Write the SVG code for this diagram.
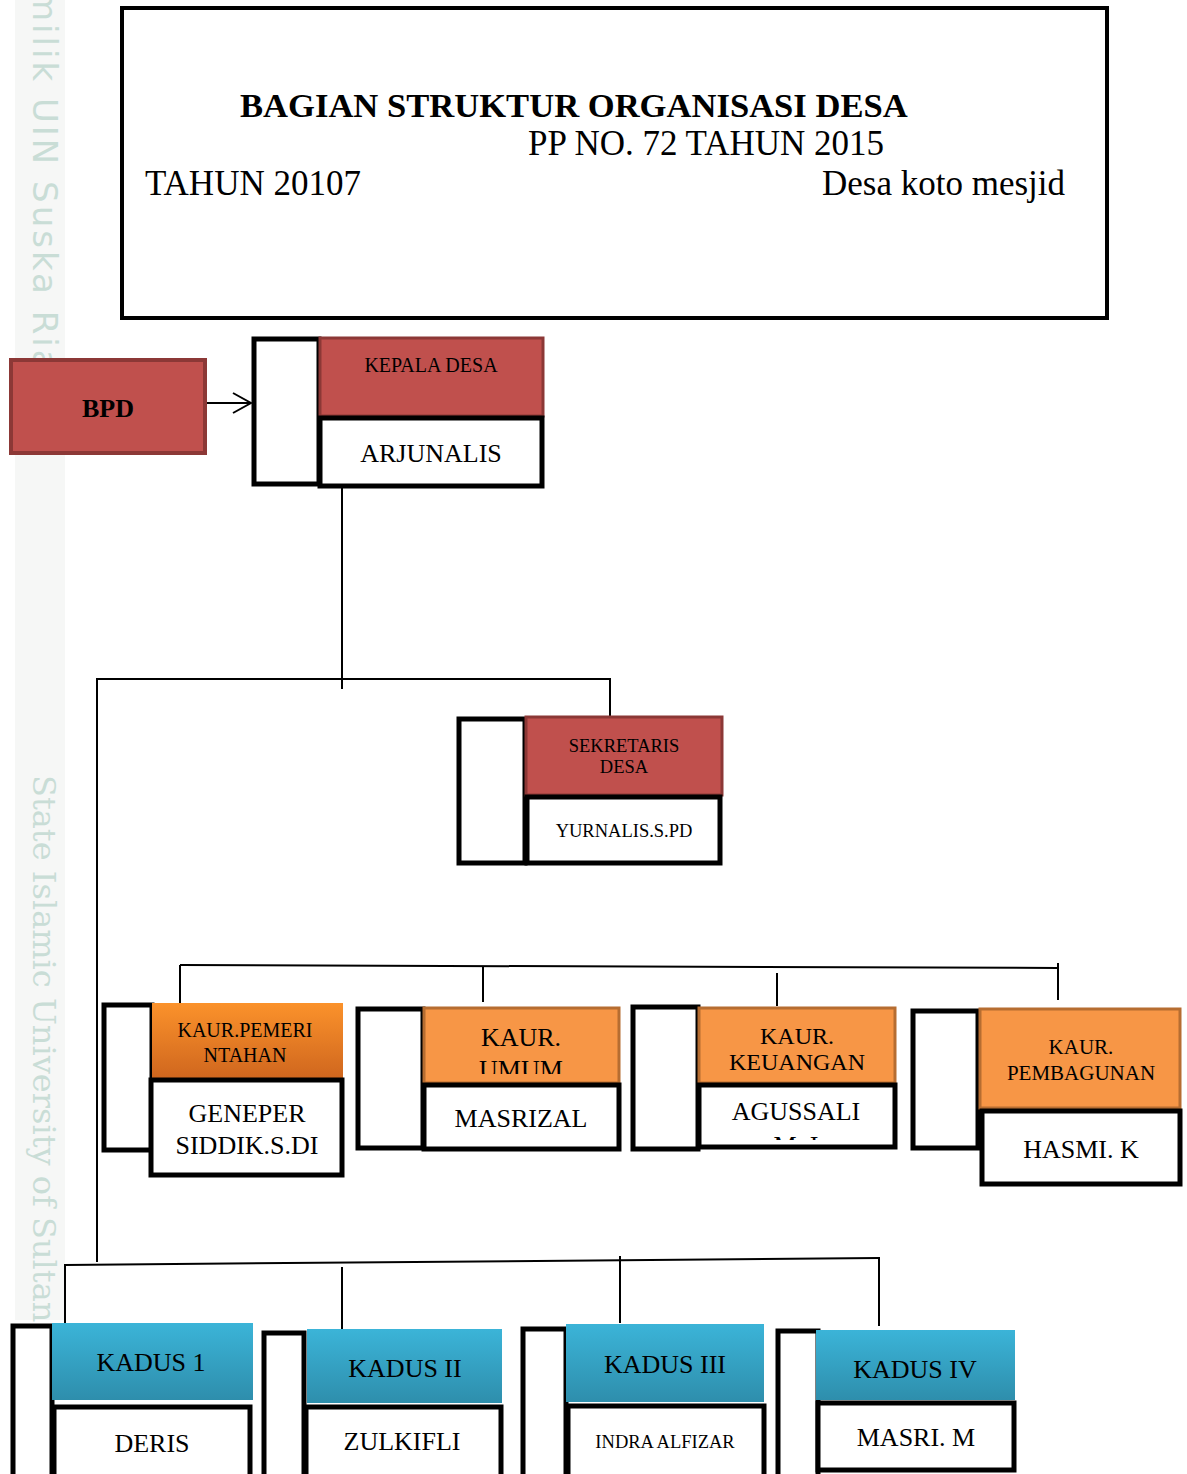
<svg xmlns="http://www.w3.org/2000/svg" width="1187" height="1474" viewBox="0 0 1187 1474">
<style>
text{font-family:"Liberation Serif","Times New Roman",serif;fill:#000}
.c{text-anchor:middle}
.side{fill:#fff;stroke:#000;stroke-width:5}
.name{fill:#fff;stroke:#000;stroke-width:5}
.red{fill:#c0504d;stroke:#8c3836;stroke-width:3}
.org{fill:#f79646;stroke:#b66d31;stroke-width:3}
.line{stroke:#000;stroke-width:2;fill:none}
.wm{font-family:"DejaVu Sans","Liberation Sans",sans-serif;fill:#c9ddd6;font-size:34px;letter-spacing:3px}
.wm2{font-family:"DejaVu Serif","Liberation Serif",serif;fill:#c9ddd6;font-size:32px}
</style>
<defs>
<linearGradient id="og" x1="0" y1="0" x2="0" y2="1"><stop offset="0" stop-color="#fb922b"/><stop offset="1" stop-color="#cf661e"/></linearGradient>
<linearGradient id="bg" x1="0" y1="0" x2="0" y2="1"><stop offset="0" stop-color="#3bb4d8"/><stop offset="1" stop-color="#2e8eac"/></linearGradient>
<marker id="arr" markerWidth="22" markerHeight="24" refX="20" refY="12" orient="auto" markerUnits="userSpaceOnUse"><path d="M2,2 L20,12 L2,22" fill="none" stroke="#000" stroke-width="2"/></marker>
<clipPath id="cpUmum"><rect x="425" y="1009" width="193" height="65"/></clipPath>
<clipPath id="cpAgus"><rect x="700" y="1086" width="194" height="54"/></clipPath>
</defs>
<rect width="1187" height="1474" fill="#fff"/>
<g id="watermark">
<rect x="15" y="0" width="50" height="1320" fill="#f6f7f6"/>
<text class="wm" transform="translate(33,-12) rotate(90)">milik UIN Suska Riau</text>
<text class="wm2" transform="translate(33,775) rotate(90)">State Islamic University of Sultan</text>
</g>
<g id="header">
<rect x="122" y="8" width="985" height="310" fill="#fff" stroke="#000" stroke-width="4"/>
<text x="240" y="117" font-size="34.6" font-weight="bold">BAGIAN STRUKTUR ORGANISASI DESA</text>
<text x="528" y="155" font-size="35">PP NO. 72 TAHUN 2015</text>
<text x="145" y="195" font-size="35">TAHUN 20107</text>
<text x="1065" y="195" font-size="35" text-anchor="end">Desa koto mesjid</text>
</g>
<g id="connectors">
<line class="line" x1="206" y1="403" x2="251" y2="403" marker-end="url(#arr)"/>
<line class="line" x1="342" y1="487" x2="342" y2="689"/>
<line class="line" x1="97" y1="679" x2="610" y2="679"/>
<line class="line" x1="610" y1="678" x2="610" y2="717"/>
<line class="line" x1="97" y1="678" x2="97" y2="1262"/>
<line class="line" x1="180" y1="965" x2="1058" y2="968"/>
<line class="line" x1="180" y1="965" x2="180" y2="1003"/>
<line class="line" x1="483" y1="967" x2="483" y2="1002"/>
<line class="line" x1="777" y1="973" x2="777" y2="1006"/>
<line class="line" x1="1058" y1="963" x2="1058" y2="1000"/>
<line class="line" x1="65" y1="1265" x2="879" y2="1258"/>
<line class="line" x1="65" y1="1264" x2="65" y2="1325"/>
<line class="line" x1="342" y1="1267" x2="342" y2="1330"/>
<line class="line" x1="620" y1="1256" x2="620" y2="1323"/>
<line class="line" x1="879" y1="1257" x2="879" y2="1326"/>
</g>
<g id="bpd">
<rect x="11" y="360" width="194" height="93" fill="#c0504d" stroke="#8c3836" stroke-width="4"/>
<text class="c" x="108" y="417" font-size="26" font-weight="bold">BPD</text>
</g>
<g id="kepala-desa">
<rect class="side" x="254" y="339" width="65" height="145"/>
<rect class="red" x="320" y="338" width="223" height="78"/>
<text class="c" x="431" y="372" font-size="20">KEPALA DESA</text>
<rect class="name" x="320" y="418" width="222" height="68"/>
<text class="c" x="431" y="462" font-size="26">ARJUNALIS</text>
</g>
<g id="sekretaris-desa">
<rect class="side" x="459" y="719" width="66" height="144"/>
<rect class="red" x="526" y="717" width="196" height="78"/>
<text class="c" x="624" y="752" font-size="18.5">SEKRETARIS</text>
<text class="c" x="624" y="773" font-size="18.5">DESA</text>
<rect class="name" x="527" y="797" width="193" height="66"/>
<text class="c" x="624" y="837" font-size="18.5">YURNALIS.S.PD</text>
</g>
<g id="kaur-pemerintahan">
<rect class="side" x="104" y="1005" width="48" height="145"/>
<rect x="152" y="1003" width="191" height="76" fill="url(#og)"/>
<text class="c" x="245" y="1037" font-size="20">KAUR.PEMERI</text>
<text class="c" x="245" y="1062" font-size="20">NTAHAN</text>
<rect class="name" x="151" y="1080" width="191" height="95"/>
<text class="c" x="247" y="1122" font-size="26">GENEPER</text>
<text class="c" x="247" y="1154" font-size="26">SIDDIK.S.DI</text>
</g>
<g id="kaur-umum">
<rect class="side" x="358" y="1009" width="65" height="139"/>
<rect class="org" x="424" y="1008" width="195" height="75"/>
<g clip-path="url(#cpUmum)">
<text class="c" x="521" y="1046" font-size="26">KAUR.</text>
<text class="c" x="521" y="1078" font-size="26">UMUM</text>
</g>
<rect class="name" x="424" y="1085" width="195" height="64"/>
<text class="c" x="521" y="1127" font-size="26">MASRIZAL</text>
</g>
<g id="kaur-keuangan">
<rect class="side" x="633" y="1007" width="65" height="142"/>
<rect class="org" x="699" y="1008" width="196" height="75"/>
<text class="c" x="797" y="1044" font-size="24">KAUR.</text>
<text class="c" x="797" y="1070" font-size="24">KEUANGAN</text>
<rect class="name" x="699" y="1085" width="196" height="62"/>
<g clip-path="url(#cpAgus)">
<text class="c" x="796" y="1120" font-size="26">AGUSSALI</text>
<text class="c" x="796" y="1154" font-size="26">M. I</text>
</g>
</g>
<g id="kaur-pembagunan">
<rect class="side" x="913" y="1011" width="65" height="137"/>
<rect class="org" x="980" y="1009" width="200" height="99"/>
<text class="c" x="1081" y="1054" font-size="21">KAUR.</text>
<text class="c" x="1081" y="1080" font-size="21">PEMBAGUNAN</text>
<rect class="name" x="982" y="1111" width="198" height="73"/>
<text class="c" x="1081" y="1158" font-size="26">HASMI. K</text>
</g>
<g id="kadus-1">
<rect class="side" x="13" y="1326" width="39" height="160"/>
<rect x="52" y="1323" width="201" height="77" fill="url(#bg)"/>
<text class="c" x="151" y="1371" font-size="26">KADUS 1</text>
<rect class="name" x="54" y="1407" width="196" height="80"/>
<text class="c" x="152" y="1452" font-size="26">DERIS</text>
</g>
<g id="kadus-2">
<rect class="side" x="264" y="1333" width="40" height="150"/>
<rect x="307" y="1329" width="195" height="74" fill="url(#bg)"/>
<text class="c" x="405" y="1377" font-size="26">KADUS II</text>
<rect class="name" x="306" y="1407" width="195" height="80"/>
<text class="c" x="402" y="1450" font-size="26">ZULKIFLI</text>
</g>
<g id="kadus-3">
<rect class="side" x="523" y="1329" width="43" height="150"/>
<rect x="566" y="1324" width="198" height="78" fill="url(#bg)"/>
<text class="c" x="665" y="1373" font-size="26">KADUS III</text>
<rect class="name" x="568" y="1406" width="196" height="80"/>
<text class="c" x="665" y="1448" font-size="18.5">INDRA ALFIZAR</text>
</g>
<g id="kadus-4">
<rect class="side" x="778" y="1331" width="40" height="150"/>
<rect x="816" y="1330" width="199" height="70" fill="url(#bg)"/>
<text class="c" x="915" y="1378" font-size="26">KADUS IV</text>
<rect class="name" x="818" y="1403" width="196" height="67"/>
<text class="c" x="916" y="1446" font-size="26">MASRI. M</text>
</g>
</svg>
